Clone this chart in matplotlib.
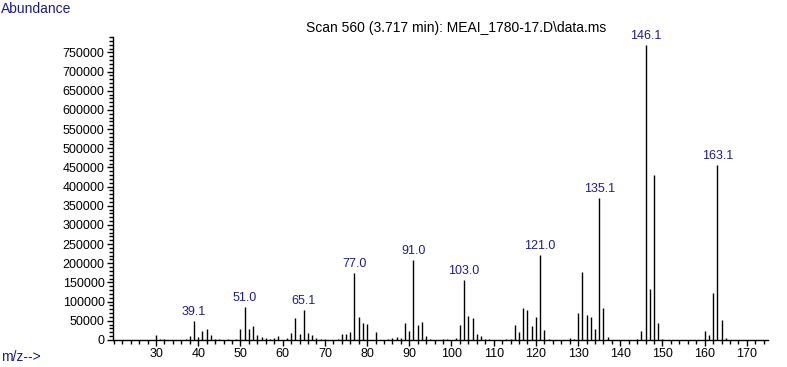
import matplotlib
matplotlib.use("Agg")
import matplotlib.pyplot as plt
from matplotlib.ticker import MultipleLocator

# spectrum
mz = [30, 31, 32, 37, 38, 39, 40, 41, 42, 43, 44, 45, 47,
      49, 50, 51, 52, 53, 54, 55, 56, 57, 58, 59, 61, 62, 63, 64, 65, 66, 67, 68, 69, 70,
      73, 74, 75, 76, 77, 78, 79, 80, 82,
      85, 86, 87, 88, 89, 90, 91, 92, 93, 94, 95,
      98, 99, 101, 102, 103, 104, 105, 106, 107, 108, 109,
      113, 114, 115, 116, 117, 118, 119, 120, 121, 122, 123,
      128, 129, 130, 131, 132, 133, 134, 135, 136, 137,
      144, 145, 146, 147, 148, 149, 150,
      160, 161, 162, 163, 164, 165]
abundance = [13000, 3500, 1700, 2600, 10400, 49500, 7800, 23500, 29500, 13000, 2600, 2600, 2600,
             1700, 28700, 87000, 28700, 37400, 13000, 7800, 4300, 2600, 4300, 10400, 6000, 19000, 58000, 16500, 78000, 19000, 14000, 6000, 2600, 2600,
             2600, 16500, 16500, 21700, 175600, 60800, 45200, 42600, 21700,
             2600, 5000, 7800, 5000, 45200, 24300, 208600, 40000, 47800, 11300, 3500,
             2600, 2600, 6000, 39000, 156000, 62600, 57000, 15600, 9500, 2600, 2600,
             2600, 2600, 39000, 21000, 83000, 78000, 36500, 60000, 221600, 26000, 1700,
             6000, 2600, 70000, 177000, 65000, 60000, 28700, 370000, 83000, 7800,
             2600, 23500, 769000, 134000, 431000, 45000, 2600,
             23500, 14000, 123000, 457000, 52000, 5000]

label_mz = [39, 51, 65, 77, 91, 103, 121, 135, 146, 163]
label_txt = ["39.1", "51.0", "65.1", "77.0", "91.0", "103.0", "121.0", "135.1", "146.1", "163.1"]

navy = "#1c1c8c"
plt.rcParams['font.family'] = ['Liberation Sans', 'DejaVu Sans']

fig = plt.figure(figsize=(7.87, 3.67), dpi=100)
ax = fig.add_axes([113/787, 27/367, 655/787, 303/367])

ax.vlines(mz, 0, abundance, colors="black", linewidth=1.0)

for m, t in zip(label_mz, label_txt):
    h = abundance[mz.index(m)]
    ax.annotate(t, (m, h), xytext=(0, 2), textcoords="offset points",
                ha="center", va="bottom", color=navy, fontsize=9)

ax.set_xlim(19.8, 175)
ax.set_ylim(0, 790000)
ax.xaxis.set_minor_locator(MultipleLocator(2))
ax.yaxis.set_minor_locator(MultipleLocator(10000))
ax.set_xticks(range(30, 171, 10))
ax.set_yticks(range(0, 750001, 50000))
ax.tick_params(which="major", length=4, width=1, labelsize=9, pad=2)
ax.tick_params(which="minor", length=3, width=1)
for s in ["top", "right"]:
    ax.spines[s].set_visible(False)
for s in ["left", "bottom"]:
    ax.spines[s].set_linewidth(1.0)

fig.text(456/787, 1 - 28/367, "Scan 560 (3.717 min): MEAI_1780-17.D\\data.ms",
         ha="center", va="center", fontsize=10)
fig.text(1/787, 1 - 9/367, "Abundance", ha="left", va="center", color=navy, fontsize=10)
fig.text(1/787, 1 - 357/367, "m/z-->", ha="left", va="center", color=navy, fontsize=10)

fig.savefig("out.png", dpi=100)
